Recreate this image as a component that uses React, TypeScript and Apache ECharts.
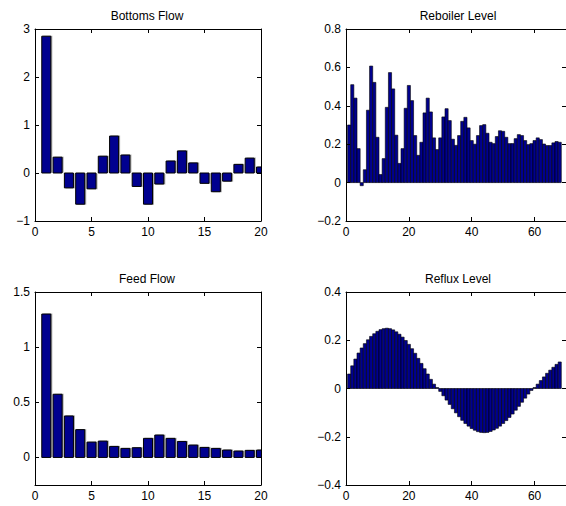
import React, { useEffect, useRef } from "react";
import * as echarts from "echarts";

const bottomsFlow = [2.85, 0.33, -0.31, -0.65, -0.33, 0.35, 0.77, 0.375, -0.28, -0.65, -0.23, 0.25, 0.46, 0.21, -0.215, -0.39, -0.17, 0.18, 0.31, 0.125];

const reboilerLevel = [
  0.3, 0.51, 0.44, 0.177, -0.016, 0.067, 0.377, 0.607, 0.522, 0.236,
  0.042, 0.125, 0.392, 0.573, 0.488, 0.247, 0.1, 0.177, 0.387, 0.506,
  0.427, 0.245, 0.142, 0.21, 0.363, 0.44, 0.368, 0.233, 0.172, 0.233,
  0.342, 0.385, 0.323, 0.226, 0.194, 0.245, 0.319, 0.34, 0.285, 0.219,
  0.2, 0.245, 0.297, 0.302, 0.257, 0.21, 0.203, 0.24, 0.27, 0.267,
  0.236, 0.203, 0.203, 0.229, 0.25, 0.245, 0.219, 0.198, 0.203, 0.219,
  0.233, 0.224, 0.201, 0.193, 0.193, 0.207, 0.214, 0.21,
];

const feedFlow = [1.3, 0.573, 0.376, 0.252, 0.139, 0.148, 0.1, 0.082, 0.088, 0.173, 0.203, 0.173, 0.145, 0.112, 0.091, 0.082, 0.067, 0.058, 0.064, 0.067];

const refluxLevel = [
  0.06, 0.094, 0.122, 0.147, 0.168, 0.186, 0.202, 0.216, 0.227, 0.237,
  0.244, 0.248, 0.25, 0.248, 0.243, 0.235, 0.225, 0.213, 0.199, 0.183,
  0.165, 0.146, 0.125, 0.104, 0.082, 0.06, 0.038, 0.018, 0.004, -0.012,
  -0.03, -0.048, -0.066, -0.084, -0.101, -0.117, -0.132, -0.145, -0.156, -0.166,
  -0.173, -0.179, -0.182, -0.183, -0.182, -0.178, -0.172, -0.165, -0.156, -0.145,
  -0.133, -0.12, -0.106, -0.09, -0.074, -0.057, -0.04, -0.023, -0.008, 0.004,
  0.018, 0.033, 0.048, 0.063, 0.076, 0.088, 0.1, 0.11,
];

const titles = ["Bottoms Flow", "Reboiler Level", "Feed Flow", "Reflux Level"];
const xTicksShort = [0, 5, 10, 15, 20];
const xTicksLong = [0, 20, 40, 60];
const yTicksBottoms = [-1, 0, 1, 2, 3];
const yTicksReboiler = [-0.2, 0, 0.2, 0.4, 0.6, 0.8];
const yTicksFeed = [0, 0.5, 1, 1.5];
const yTicksReflux = [-0.4, -0.2, 0, 0.2, 0.4];

const FONT = "'Liberation Sans', Arial, Helvetica, sans-serif";

export default function App() {
  const ref = useRef<HTMLDivElement>(null);
  useEffect(() => {
    if (!ref.current) return;
    const chart = echarts.init(ref.current, undefined, { renderer: "svg" });

    const panels = [
      { data: bottomsFlow, grid: { left: 35, top: 29, width: 226, height: 192 }, xmin: 0, xmax: 20, xt: xTicksShort, ymin: -1, ymax: 3, yt: yTicksBottoms, half: 0.4, bdw: 1, shadow: true },
      { data: reboilerLevel, grid: { left: 346, top: 29, width: 226, height: 192 }, xmin: 0, xmax: 70, xt: xTicksLong, ymin: -0.2, ymax: 0.8, yt: yTicksReboiler, half: 0.5, bdw: 0.6, shadow: false },
      { data: feedFlow, grid: { left: 35, top: 292, width: 226, height: 193 }, xmin: 0, xmax: 20, xt: xTicksShort, ymin: -0.25, ymax: 1.5, yt: yTicksFeed, half: 0.4, bdw: 1, shadow: true },
      { data: refluxLevel, grid: { left: 346, top: 292, width: 226, height: 193 }, xmin: 0, xmax: 70, xt: xTicksLong, ymin: -0.4, ymax: 0.4, yt: yTicksReflux, half: 0.5, bdw: 0.6, shadow: false },
    ];

    const fmt = (v: number) => {
      const s = String(Math.round(v * 1000) / 1000);
      return s.replace("-", "\u2212");
    };

    const grids: any[] = [];
    const xAxes: any[] = [];
    const yAxes: any[] = [];
    const series: any[] = [];
    const graphics: any[] = [];

    panels.forEach((p, i) => {
      grids.push({ ...p.grid, show: false, containLabel: false });
      const lineStyle = { color: "#000", width: 1 };
      const tickBase = { show: true, inside: true, length: 4, lineStyle };
      xAxes.push({
        type: "value", gridIndex: i, position: "bottom", min: p.xmin, max: p.xmax, z: 5,
        axisLine: { show: true, onZero: false, lineStyle },
        axisTick: { ...tickBase, customValues: p.xt },
        axisLabel: { show: true, customValues: p.xt, margin: 5, color: "#000", fontSize: 12, fontFamily: FONT, formatter: fmt },
        splitLine: { show: false },
      });
      xAxes.push({
        type: "value", gridIndex: i, position: "top", min: p.xmin, max: p.xmax, z: 5,
        axisLine: { show: true, onZero: false, lineStyle },
        axisTick: { ...tickBase, customValues: p.xt },
        axisLabel: { show: false },
        splitLine: { show: false },
      });
      yAxes.push({
        type: "value", gridIndex: i, position: "left", min: p.ymin, max: p.ymax, z: 5,
        axisLine: { show: true, onZero: false, lineStyle },
        axisTick: { ...tickBase, customValues: p.yt },
        axisLabel: { show: true, customValues: p.yt, margin: 5, color: "#000", fontSize: 12, fontFamily: FONT, formatter: fmt },
        splitLine: { show: false },
      });
      yAxes.push({
        type: "value", gridIndex: i, position: "right", min: p.ymin, max: p.ymax, z: 5,
        axisLine: { show: true, onZero: false, lineStyle },
        axisTick: { ...tickBase, customValues: p.yt },
        axisLabel: { show: false },
        splitLine: { show: false },
      });
      const half = p.half;
      const bdw = p.bdw;
      const shadow = p.shadow;
      series.push({
        type: "custom",
        xAxisIndex: i * 2,
        yAxisIndex: i * 2,
        data: p.data.map((v, k) => [k + 1, v]),
        clip: true,
        renderItem: (params: any, api: any) => {
          const x = api.value(0);
          const y = api.value(1);
          const a = api.coord([x - half, y]);
          const b = api.coord([x + half, 0]);
          const rx = a[0];
          const ry = Math.min(a[1], b[1]);
          const w = b[0] - a[0];
          const h = Math.abs(b[1] - a[1]);
          const children: any[] = [];
          if (shadow) {
            children.push({
              type: "rect",
              shape: { x: rx + 1.5, y: ry - (y >= 0 ? 0.5 : -0.5), width: w, height: h },
              style: { fill: "#a8a8a8" },
            });
          }
          children.push({
            type: "rect",
            shape: { x: rx, y: ry, width: w, height: h },
            style: { fill: "#00008f", stroke: "#000", lineWidth: bdw },
          });
          return { type: "group", children };
        },
        emphasis: { disabled: true },
      });
      graphics.push({
        type: "text",
        x: p.grid.left + p.grid.width / 2 - 1,
        y: p.grid.top - 13,
        style: {
          text: titles[i],
          textAlign: "center",
          textVerticalAlign: "middle",
          fill: "#000",
          fontSize: 12,
          fontFamily: FONT,
        },
      });
    });

    chart.setOption({
      animation: false,
      backgroundColor: "#fff",
      grid: grids,
      xAxis: xAxes,
      yAxis: yAxes,
      series,
      graphic: graphics,
    });
    return () => chart.dispose();
  }, []);
  return <div ref={ref} style={{ position: "fixed", left: 0, top: 0, width: 566, height: 506 }} />;
}
